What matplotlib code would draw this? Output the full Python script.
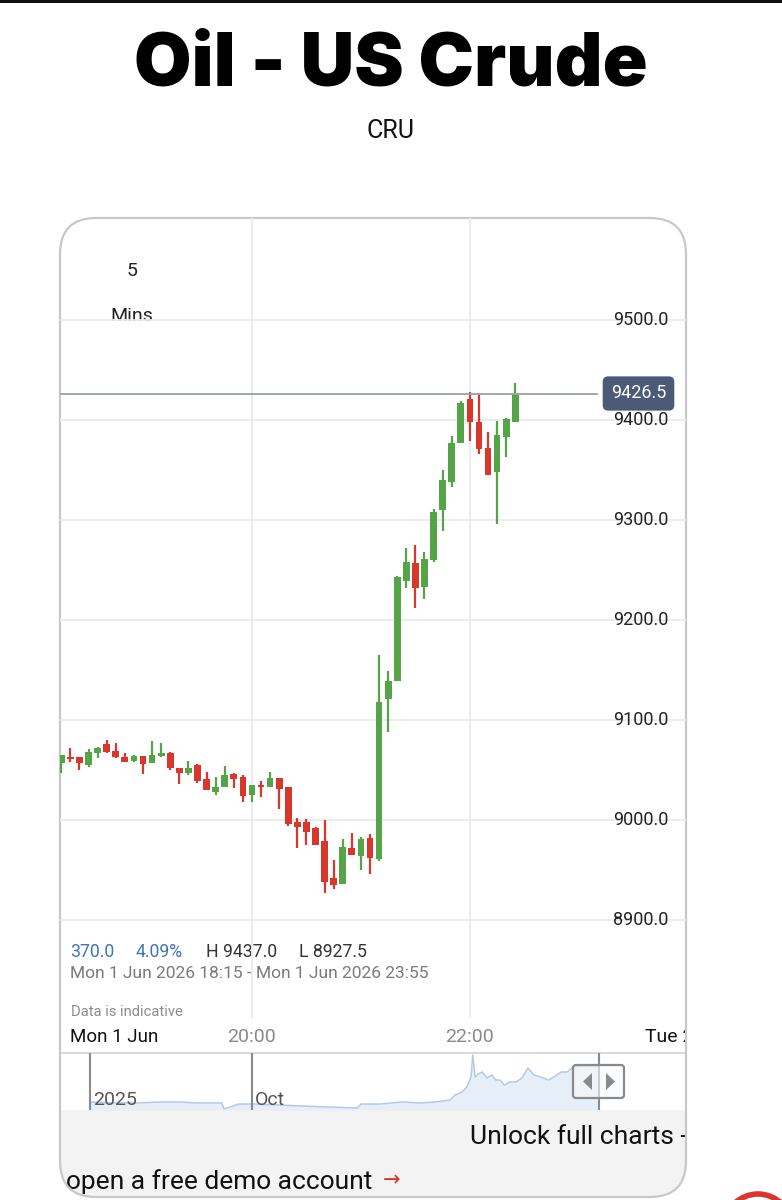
import matplotlib
matplotlib.use("Agg")
import matplotlib.pyplot as plt
from matplotlib.patches import FancyBboxPatch, Rectangle, Polygon, Circle
import matplotlib.transforms as mtransforms
import numpy as np
import pandas as pd

# ---------------- data ----------------
title = "Oil - US Crude"
symbol = "CRU"
interval_value = "5"
interval_unit = "Mins"

start_time = "2026-06-01 18:15"
opens = [9057, 9063, 9063, 9055, 9067, 9076, 9069, 9063, 9059, 9064,
         9057, 9064, 9067, 9052, 9047, 9055, 9041, 9028, 9033, 9046,
         9043, 9025, 9035, 9033, 9042, 9033, 8998, 8998, 8992, 8979,
         8942, 8936, 8972, 8964, 8982, 8961, 9121, 9139, 9239, 9257,
         9233, 9260, 9310, 9338, 9377, 9421, 9398, 9372, 9348, 9383,
         9398]
highs = [9065, 9072, 9063, 9071, 9073, 9080, 9077, 9067, 9065, 9064,
         9079, 9077, 9068, 9052, 9059, 9056, 9048, 9043, 9054, 9047,
         9045, 9035, 9039, 9048, 9042, 9033, 9002, 9001, 8993, 9000,
         8960, 8981, 8987, 8983, 8986, 9165, 9149, 9244, 9272, 9275,
         9268, 9311, 9350, 9384, 9419, 9428, 9426, 9388, 9399, 9402,
         9437]
lows = [9047, 9058, 9050, 9053, 9062, 9067, 9062, 9058, 9058, 9046,
        9057, 9063, 9050, 9036, 9045, 9037, 9030, 9025, 9033, 9032,
        9018, 9018, 9023, 9033, 9011, 8994, 8972, 8975, 8975, 8927.5,
        8931, 8936, 8965, 8950, 8946, 8959, 9088, 9139, 9232, 9212,
        9221, 9258, 9289, 9333, 9377, 9379, 9366, 9345, 9296, 9363,
        9398]
closes = [9065, 9061, 9057, 9068, 9072, 9068, 9063, 9058, 9064, 9056,
          9065, 9067, 9052, 9047, 9052, 9039, 9030, 9033, 9045, 9041,
          9024, 9035, 9033, 9042, 9031, 8996, 8993, 8988, 8975, 8938,
          8935, 8973, 8965, 8981, 8962, 9118, 9139, 9243, 9258, 9232,
          9261, 9308, 9340, 9377, 9417, 9398, 9371, 9345, 9385, 9401,
          9426.5]

current_price = 9426.5
price_ticks = [9500, 9400, 9300, 9200, 9100, 9000, 8900]
time_tick_minutes = [120, 240, 360]          # minutes after 18:00
time_tick_labels = ["20:00", "22:00", "Tue 2 Jun"]
first_day_label = "Mon 1 Jun"

stat_change = "370.0"
stat_pct = "4.09%"
stat_high = "H 9437.0"
stat_low = "L 8927.5"
range_text = "Mon 1 Jun 2026 18:15 - Mon 1 Jun 2026 23:55"
note_text = "Data is indicative"

# navigator (overview) series: days since 1 Jan 2025, price
nav_days = [0, 34, 79, 118, 147, 185, 222, 226, 251, 276, 320, 354, 404, 450,
            457, 489, 526, 556, 581, 607, 615, 627, 635, 642, 645, 649, 654,
            661, 669, 677, 684, 691, 698, 708, 718, 728, 738, 748, 760, 773,
            784, 794, 804, 814, 826, 843, 858]
nav_price = [6400, 6320, 6320, 6400, 6400, 6320, 6320, 5820, 6230, 6230,
             6150, 6070, 5980, 5900, 6230, 6230, 6400, 6320, 6400, 6570,
             6980, 7230, 7650, 8480, 10320, 8480, 8730, 8900, 8400, 8650,
             8230, 8230, 7820, 8070, 8070, 8400, 9230, 8650, 8480, 8230,
             8570, 8900, 8900, 9320, 9400, 9400, 9400]
nav_tick_days = [0, 273]
nav_tick_labels = ["2025", "Oct"]
nav_window_end = 858

# ---------------- figure ----------------
W, H = 782, 1200
FONT = ["Roboto", "DejaVu Sans"]
plt.rcParams["font.family"] = FONT

fig = plt.figure(figsize=(W / 100, H / 100), dpi=100)
fig.patch.set_facecolor("white")
bg = fig.add_axes([0, 0, 1, 1], zorder=0)
bg.set_xlim(0, W)
bg.set_ylim(H, 0)
bg.axis("off")


def px_axes(l, t, r, b, z):
    a = fig.add_axes([l / W, 1 - b / H, (r - l) / W, (b - t) / H], zorder=z)
    a.patch.set_visible(False)
    for s in a.spines.values():
        s.set_visible(False)
    return a


# top dark strip
bg.add_patch(Rectangle((0, 0), W, 3, fc="#111111", ec="none"))

# title
bg.text(391, 66, title, ha="center", va="center", fontsize=53.5,
        fontweight="black", family=["Inter", "DejaVu Sans"], color="#000000")
bg.text(391, 131, symbol, ha="center", va="center", fontsize=18, color="#111111")

# card
CL, CT, CR, CB = 60, 218, 686, 1197
card = FancyBboxPatch((CL, CT), CR - CL, CB - CT,
                      boxstyle="round,pad=0,rounding_size=36",
                      fc="white", ec="none", zorder=1)
bg.add_patch(card)
band = Rectangle((CL, 1110), CR - CL, CB - 1110, fc="#f3f3f3", ec="none", zorder=1.5)
bg.add_patch(band)
band.set_clip_path(card)
card_edge = FancyBboxPatch((CL, CT), CR - CL, CB - CT,
                           boxstyle="round,pad=0,rounding_size=36",
                           fc="none", ec="#c8c8c8", lw=1.6, zorder=6)
bg.add_patch(card_edge)
card_clip = mtransforms.TransformedBbox(
    mtransforms.Bbox([[CL + 1, CT], [CR - 1, CB]]), bg.transData)

# interval selector
bg.text(132, 271, interval_value, ha="center", va="center", fontsize=14, color="#222222")
bg.text(132, 316, interval_unit, ha="center", va="center", fontsize=14, color="#222222")

# ---------------- main candle axes ----------------
ax = px_axes(CL, CT, CR, 1018, 2)
times = pd.date_range(start_time, periods=len(opens), freq="5min")
t0 = pd.Timestamp("2026-06-01 18:00")
tmin = np.array((times - t0).total_seconds() / 60.0)
o = np.array(opens, float)
h = np.array(highs, float)
l = np.array(lows, float)
c = np.array(closes, float)

ax.set_xlim(14.3, 359.0)
ax.set_ylim(8802, 9602)
ax.set_yticks(price_ticks)
ax.set_xticks(time_tick_minutes[:2])
ax.grid(True, color="#ebebeb", lw=1.3)
ax.set_axisbelow(True)
ax.tick_params(length=0, labelleft=False, labelbottom=False)

green, red = "#55a447", "#d8372c"
cols = np.where(c >= o, green, red)
ax.vlines(tmin, l, h, colors=cols, lw=1.6, zorder=3)
body_bottom = np.minimum(o, c)
body_h = np.maximum(np.abs(c - o), 2.0)
ax.bar(tmin, body_h, bottom=body_bottom, width=3.7, color=cols, zorder=4,
       linewidth=0)

# current price line + label
ax.axhline(current_price, xmin=0, xmax=(597 - CL) / (CR - CL), color="#9aa0ad",
           lw=1.3, zorder=5)
trans = mtransforms.blended_transform_factory(ax.transAxes, ax.transData)
ax.text((638.5 - CL) / (CR - CL), current_price, f"{current_price:.1f}",
        transform=trans, ha="center", va="center", fontsize=13, color="white",
        bbox=dict(boxstyle="round,pad=0.45,rounding_size=0.3", fc="#4a5a77",
                  ec="none"), zorder=7)

# price labels
for p in price_ticks:
    ax.text((668 - CL) / (CR - CL), p, f"{p:.1f}", transform=trans,
            ha="right", va="center", fontsize=13, color="#222222", zorder=6)

# stats
bg.text(70, 952, stat_change, ha="left", va="center", fontsize=12.7, color="#3f74b5", zorder=3)
bg.text(136, 952, stat_pct, ha="left", va="center", fontsize=12.7, color="#3f74b5", zorder=3)
bg.text(206, 952, stat_high, ha="left", va="center", fontsize=12.7, color="#333333", zorder=3)
bg.text(299, 952, stat_low, ha="left", va="center", fontsize=12.7, color="#333333", zorder=3)
bg.text(70, 973, range_text, ha="left", va="center", fontsize=12.5, color="#7a7a7a", zorder=3)
bg.text(71, 1012, note_text, ha="left", va="center", fontsize=10.6, color="#8c8c8c", zorder=3)

# time axis labels
tx = mtransforms.blended_transform_factory(ax.transData, bg.transData)
bg.text(70, 1037, first_day_label, ha="left", va="center", fontsize=13.5,
        color="#111111", zorder=3)
for tm, lab in zip(time_tick_minutes, time_tick_labels):
    col = "#111111" if lab.startswith("Tue") else "#8a8a8a"
    tt = bg.text(tm, 1037, lab, transform=tx, ha="center", va="center",
                 fontsize=14, color=col, zorder=3)
    tt.set_clip_on(True)
    tt.set_clip_box(card_clip)

# navigator separator line
bg.plot([CL, CR], [1053, 1053], color="#d2d2d2", lw=1.2, zorder=2)

# ---------------- navigator ----------------
nav = px_axes(CL, 1053, CR, 1110, 2)
nav.set_xlim(-50.6, 1004.4)
nav.set_ylim(5733, 10483)
nav.set_xticks([])
nav.set_yticks([])
nav.fill_between(nav_days, nav_price, 5733, color="#e6eef8", lw=0, zorder=1)
nav.plot(nav_days, nav_price, color="#b3c9e5", lw=1.1, zorder=2)
for d, lab in zip(nav_tick_days, nav_tick_labels):
    nav.axvline(d, color="#8a8a8a", lw=1.5, zorder=3)
    nav.text(d + 5, 6600, lab, ha="left", va="center", fontsize=14,
             color="#555555", zorder=4)
nav.axvline(nav_window_end, color="#8a8a8a", lw=1.5, zorder=5)

# handle (overlay)
ov = fig.add_axes([0, 0, 1, 1], zorder=10)
ov.set_xlim(0, W)
ov.set_ylim(H, 0)
ov.axis("off")
ov.add_patch(FancyBboxPatch((573, 1065), 51, 33, boxstyle="round,pad=0,rounding_size=3",
                            fc=(0.97, 0.975, 0.985, 0.6), ec="#8a8a8a", lw=1.6))
ov.add_patch(Polygon([[592, 1073], [592, 1090], [583, 1081.5]], closed=True,
                     fc="#8a8a8a", ec="none"))
ov.add_patch(Polygon([[606, 1073], [606, 1090], [615, 1081.5]], closed=True,
                     fc="#8a8a8a", ec="none"))

# bottom banner text
t1 = bg.text(470, 1137, "Unlock full charts - open", ha="left", va="center",
             fontsize=19, color="#111111", zorder=3)
t1.set_clip_on(True)
t1.set_clip_box(card_clip)
t2 = bg.text(66, 1182, "open a free demo account", ha="left", va="center",
             fontsize=19, color="#111111", zorder=3)
bg.text(392, 1180, "\u2192", ha="center", va="center", fontsize=15,
        color="#d6332b", family=["DejaVu Sans"], zorder=3)

# red partial circle at bottom right
bg.add_patch(Circle((758, 1228), 34, fc="none", ec="#d7352d", lw=4, zorder=3))

fig.savefig("out.png", dpi=100, facecolor="white")
